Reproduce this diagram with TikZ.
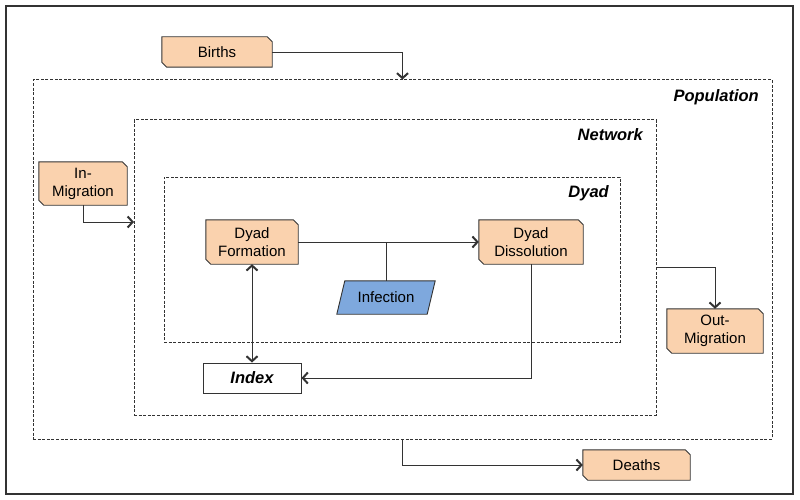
\documentclass[tikz,border=0pt]{standalone}
\usepackage{fontspec}
\setmainfont{Liberation Sans}
\usetikzlibrary{arrows.meta,backgrounds}
\definecolor{orfill}{HTML}{FAD2AE}
\definecolor{blfill}{HTML}{7EA8DD}
\definecolor{ln}{HTML}{333333}
\newcommand\chamferbox[1]{\begin{pgfonlayer}{background}\filldraw[fill=orfill,draw=ln,line width=0.9pt] (#1.north west) -- ([xshift=-5pt]#1.north east) -- ([yshift=-5pt]#1.north east) -- (#1.south east) -- ([xshift=5pt]#1.south west) -- ([yshift=5pt]#1.south west) -- cycle;\end{pgfonlayer}}
\newcommand\slantbox[1]{\begin{pgfonlayer}{background}\filldraw[fill=blfill,draw=ln,line width=0.9pt] ([xshift=-4pt]#1.south west) -- ([xshift=4pt]#1.north west) -- ([xshift=4pt]#1.north east) -- ([xshift=-4pt]#1.south east) -- cycle;\end{pgfonlayer}}
\begin{document}
\begin{tikzpicture}[x=1pt,y=-1pt,
  font=\fontsize{15}{18}\selectfont,
  ob/.style={inner sep=0pt, align=center, text=black},
  cont/.style={draw=ln, line width=1pt, dash pattern=on 3pt off 1.6pt, inner sep=0pt},
  lbl/.style={font=\fontsize{16.5}{19}\selectfont\bfseries\itshape, inner sep=0pt},
  conn/.style={draw=ln, line width=0.9pt},
  arr/.style={conn, -{Straight Barb[length=5pt,width=11pt,line width=2pt]}},
  arrb/.style={conn, {Straight Barb[length=5pt,width=11pt,line width=2pt]}-{Straight Barb[length=5pt,width=11pt,line width=2pt]}}]
\useasboundingbox (0,0) rectangle (800,500);
% frame and containers
\node[draw=ln, line width=1.3pt, minimum width=787, minimum height=488, inner sep=0pt] (frame) at (399.5,250) {};
\node[cont, minimum width=739, minimum height=359] (pop) at (402.5,259.5) {};
\node[cont, minimum width=522, minimum height=295] (net) at (395,267.5) {};
\node[cont, minimum width=456, minimum height=165] (dyad) at (392,259.5) {};
\node[lbl, anchor=base east] (poplbl) at (759,102) {Population};
\node[lbl, anchor=base east] (netlbl) at (643,141) {Network};
\node[lbl, anchor=base east] (dyadlbl) at (609,197) {Dyad};
% boxes
\node[ob, minimum width=110, minimum height=30] (births) at (217,52) {Births};
\chamferbox{births}
\node[ob, minimum width=88, minimum height=43] (inmig) at (83,183.5) {In-\\Migration};
\chamferbox{inmig}
\node[ob, minimum width=92, minimum height=44] (form) at (252,242) {Dyad\\Formation};
\chamferbox{form}
\node[ob, minimum width=104, minimum height=44] (diss) at (531,242) {Dyad\\Dissolution};
\chamferbox{diss}
\node[ob, minimum width=96, minimum height=44] (outmig) at (715,331) {Out-\\Migration};
\chamferbox{outmig}
\node[ob, minimum width=107, minimum height=30] (deaths) at (636.5,465) {Deaths};
\chamferbox{deaths}
\node[ob, minimum width=90, minimum height=33] (inf) at (386,297.5) {Infection};
\slantbox{inf}
\node[ob, draw=ln, line width=0.9pt, fill=white, minimum width=98, minimum height=30, font=\fontsize{16.5}{19}\selectfont\bfseries\itshape] (idx) at (252,378) {Index};
% connectors
\coordinate (inarr) at (134,222);
\draw[arr] (births.east) -| (pop.north);
\draw[arr] (inmig.south) |- (inarr);
\draw[arr] (form.east) -- (diss.west);
\draw[conn] (inf.north) -- (inf.north |- form.east);
\draw[arrb] (form.south) -- (idx.north);
\draw[arr] (diss.south) |- (idx.east);
\draw[arr] (net.east) -| (outmig.north);
\draw[arr] (pop.south) |- (deaths.west);
\end{tikzpicture}
\end{document}
